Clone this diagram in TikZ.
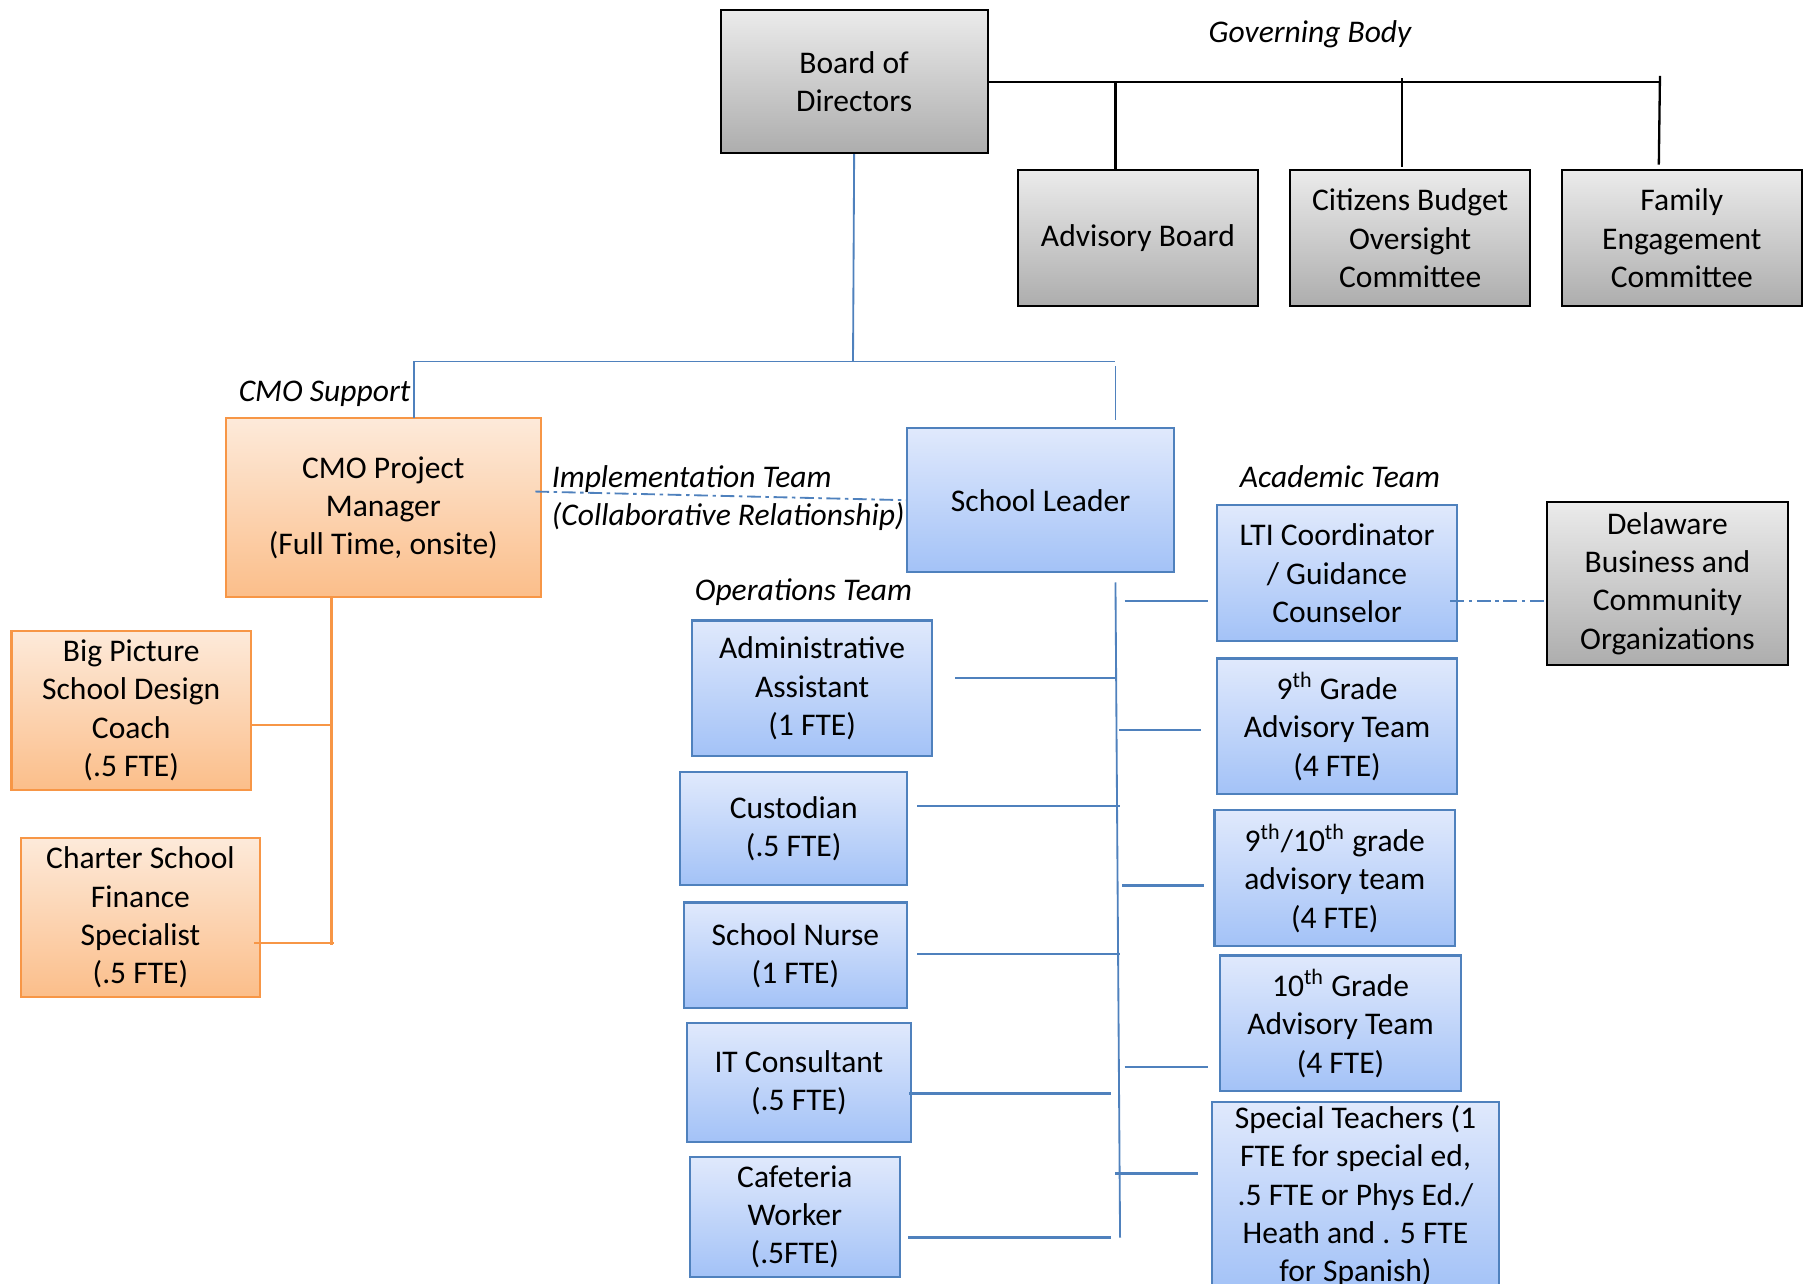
\documentclass[tikz,border=0pt]{standalone}
\usepackage{fontspec}
\setmainfont{Carlito}
\definecolor{bborder}{HTML}{4F81BD}
\definecolor{btop}{HTML}{E0E9FC}
\definecolor{bbot}{HTML}{A3C2F7}
\definecolor{oborder}{HTML}{F79646}
\definecolor{otop}{HTML}{FDEADA}
\definecolor{obot}{HTML}{FBBE8A}
\definecolor{gtop}{HTML}{EBEBEB}
\definecolor{gbot}{HTML}{ADADAD}
\newcommand\boxat[7]{\node[#2, minimum width={(#5-#3)*0.5pt}, minimum height={(#6-#4)*0.5pt}] (#1) at ({(#3+#5)/2},{(#4+#6)/2}) {#7};}
\begin{document}
\begin{tikzpicture}[x=0.5pt,y=-0.5pt,
  every node/.style={font=\fontsize{13.7}{16.6}\selectfont, align=center, inner sep=0pt},
  basebox/.style={rectangle, shading=axis, shading angle=0},
  bluebox/.style={basebox, draw=bborder, line width=0.9pt, top color=btop, bottom color=bbot},
  orangebox/.style={basebox, draw=oborder, line width=0.9pt, top color=otop, bottom color=obot},
  graybox/.style={basebox, draw=black, line width=0.9pt, top color=gtop, bottom color=gbot},
  lbl/.style={font=\fontsize{13.7}{16.6}\selectfont\itshape},
  gov/.style={draw=black, line width=1pt},
  bl/.style={draw=bborder, line width=0.8pt},
  blt/.style={draw=bborder, line width=1.3pt},
  ol/.style={draw=oborder, line width=0.9pt},
  dd/.style={draw=bborder, line width=0.8pt, dash pattern=on 6pt off 2pt on 1.5pt off 2pt}]
\useasboundingbox (0,0) rectangle (1568,1115);

% gray boxes
\boxat{bod}{graybox}{626}{9}{858}{133}{Board of\\Directors}
\boxat{adv}{graybox}{884}{148}{1093}{266}{Advisory Board}
\boxat{cbo}{graybox}{1121}{148}{1329}{266}{Citizens Budget\\Oversight\\Committee}
\boxat{fec}{graybox}{1357}{148}{1565}{266}{Family\\Engagement\\Committee}
\boxat{del}{graybox}{1344}{436}{1553}{578}{Delaware\\Business and\\Community\\Organizations}

% orange boxes
\boxat{cmo}{orangebox}{196}{363}{470}{519}{CMO Project\\Manager\\(Full Time, onsite)}
\boxat{bpc}{orangebox}{10}{548}{218}{686}{Big Picture\\School Design\\Coach\\(.5 FTE)}
\boxat{csf}{orangebox}{18}{728}{226}{866}{Charter School\\Finance\\Specialist\\(.5 FTE)}

% blue boxes
\boxat{sl}{bluebox}{788}{372}{1020}{497}{School Leader}
\boxat{adm}{bluebox}{601}{539}{810}{657}{Administrative\\Assistant\\(1 FTE)}
\boxat{cus}{bluebox}{591}{671}{788}{769}{Custodian\\(.5 FTE)}
\boxat{nur}{bluebox}{594}{784}{788}{876}{School Nurse\\(1 FTE)}
\boxat{itc}{bluebox}{597}{889}{791}{992}{IT Consultant\\(.5 FTE)}
\boxat{caf}{bluebox}{599}{1005}{782}{1109}{Cafeteria\\Worker\\(.5FTE)}
\boxat{lti}{bluebox}{1057}{439}{1266}{557}{LTI Coordinator\\/ Guidance\\Counselor}
\boxat{g9}{bluebox}{1057}{572}{1266}{690}{9\textsuperscript{th} Grade\\Advisory Team\\(4 FTE)}
\boxat{g910}{bluebox}{1055}{704}{1264}{822}{9\textsuperscript{th}/10\textsuperscript{th} grade\\advisory team\\(4 FTE)}
\boxat{g10}{bluebox}{1060}{830}{1269}{948}{10\textsuperscript{th} Grade\\Advisory Team\\(4 FTE)}
\boxat{spt}{bluebox}{1053}{957}{1302}{1121}{Special Teachers (1\\FTE for special ed,\\.5 FTE or Phys Ed./\\Heath and . 5 FTE\\for Spanish)}

% labels
\node[lbl] (lgov) at (1138,30) {Governing Body};
\node[lbl] (lcmo) at (282,342) {CMO Support};
\node[lbl, anchor=west, align=left] (limp) at (479,433) {Implementation Team\\(Collaborative Relationship)};
\node[lbl] (lops) at (698,514) {Operations Team};
\node[lbl] (laca) at (1164,414) {Academic Team};

% governing body lines
\draw[gov] (bod.east) -- (1442,71);
\draw[gov] (969,71) -- (969,147);
\draw[gov] (1218,68) -- (1218,145);
\draw[gov] (1442,66) -- (1441,143);

% main blue tree
\coordinate (mid) at (741,314);
\draw[bl] (bod.south) -- (mid);
\draw[bl] (360,314) -- (969,314);
\draw[bl] (360,314) -- (360,363);
\draw[bl] (969,318) -- (969,365);

% dash-dot relations
\draw[dd] (465,427) -- (sl.west);
\draw[dd] (1260,522) -- (1344,522);

% orange tree
\coordinate (ob1) at (288,630);
\coordinate (ob2) at (290,819);
\draw[ol] (cmo.south -| 288,0) -- (288,821);
\draw[ol] (bpc.east |- ob1) -- (ob1);
\draw[ol] (csf.east |- ob2) ++(-6,0) -- (ob2);

% school bus
\draw[bl] (969,506) -- (973,1075);
\draw[bl] (977,522) -- (1049,522);
\draw[bl] (972,634) -- (1043,634);
\draw[blt] (975,769) -- (1046,769);
\draw[bl] (977,927) -- (1049,927);
\draw[blt] (969,1019) -- (1041,1019);
\draw[bl] (830,589) -- (969,589);
\draw[bl] (797,700) -- (973,700);
\draw[bl] (797,829) -- (973,829);
\draw[blt] (790,950) -- (965,950);
\draw[blt] (789,1075) -- (965,1075);
\end{tikzpicture}
\end{document}
